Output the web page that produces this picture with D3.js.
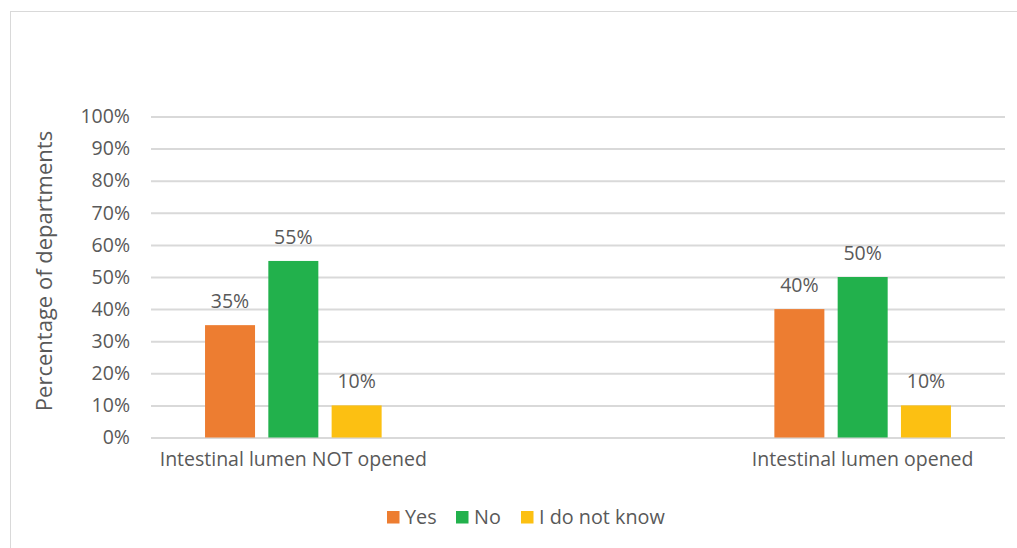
<!DOCTYPE html>
<html>
<head>
<meta charset="utf-8">
<script src="https://cdn.jsdelivr.net/npm/d3@7"></script>
<style>
  html, body { margin: 0; padding: 0; background: #ffffff; }
  svg { display: block; }
  text { font-family: "Open Sans", "DejaVu Sans", sans-serif; fill: #595959; }
</style>
</head>
<body>
<svg id="chart" width="1017" height="548"></svg>
<script>
// ---- data ----
const categories = ["Intestinal lumen NOT opened", "", "Intestinal lumen opened"];
const seriesNames = ["Yes", "No", "I do not know"];
const yesValues = [35, null, 40];
const noValues = [55, null, 50];
const dontKnowValues = [10, null, 10];
const yTicks = [0, 10, 20, 30, 40, 50, 60, 70, 80, 90, 100];
const colors = ["#ED7D31", "#22B14C", "#FCC012"];

const seriesValues = [yesValues, noValues, dontKnowValues];

const svg = d3.select("#chart");
const W = 1017, H = 548;
const margin = { left: 151, right: W - 1005, top: 116.5, bottom: H - 437.5 };

// chart border
svg.append("rect")
  .attr("x", 10.5).attr("y", 11.5)
  .attr("width", W + 20).attr("height", H + 20)
  .attr("fill", "#ffffff").attr("stroke", "#d9d9d9").attr("stroke-width", 1);

const x = d3.scaleBand().domain(categories.map((c, i) => i))
  .range([margin.left, W - margin.right]).paddingInner(0).paddingOuter(0);
const innerW = x.bandwidth();
const groupPad = (innerW - (3 * 50 + 2 * 13.3)) / 2;
const x1 = d3.scaleBand().domain(seriesNames)
  .range([groupPad, innerW - groupPad]).paddingInner(0.21);
const y = d3.scaleLinear().domain([0, 100]).range([H - margin.bottom, margin.top]);

// gridlines
const yAxis = d3.axisLeft(y).tickValues(yTicks)
  .tickSize(-(W - margin.left - margin.right))
  .tickFormat(d => d + "%").tickPadding(21);
const gy = svg.append("g").attr("transform", `translate(${margin.left},0)`).call(yAxis);
gy.select(".domain").remove();
gy.selectAll(".tick line").attr("stroke", "#d9d9d9").attr("stroke-width", 2);
gy.selectAll(".tick text").attr("font-size", 19.5).attr("fill", "#595959")
  .style("font-family", "'Open Sans', sans-serif");

// bars
const groups = svg.append("g").selectAll("g")
  .data(categories.map((c, i) => i).filter(i => categories[i] !== ""))
  .join("g")
  .attr("transform", i => `translate(${x(i)},0)`);

groups.each(function(ci) {
  const g = d3.select(this);
  seriesNames.forEach((s, si) => {
    const v = seriesValues[si][ci];
    if (v == null) return;
    g.append("rect")
      .attr("x", x1(s)).attr("width", x1.bandwidth())
      .attr("y", y(v)).attr("height", y(0) - y(v))
      .attr("fill", colors[si]);
    g.append("text")
      .attr("x", x1(s) + x1.bandwidth() / 2)
      .attr("y", y(v) - 17)
      .attr("text-anchor", "middle")
      .attr("font-size", 19.5)
      .text(v + "%");
  });
});

// category labels
const xAxis = d3.axisBottom(x).tickSize(0).tickPadding(0)
  .tickFormat(i => categories[i]);
const gx = svg.append("g").attr("transform", `translate(0,${y(0)})`).call(xAxis);
gx.select(".domain").remove();
gx.selectAll(".tick text").attr("dy", null).attr("y", 28)
  .attr("font-size", 19.5).attr("fill", "#595959")
  .style("font-family", "'Open Sans', sans-serif");

// y axis title
svg.append("text")
  .attr("transform", `translate(52,${(margin.top + H - margin.bottom) / 2 - 6}) rotate(-90)`)
  .attr("text-anchor", "middle")
  .attr("font-size", 22)
  .text("Percentage of departments");

// legend
const legendX = [387, 456, 521];
const legend = svg.append("g");
seriesNames.forEach((s, i) => {
  legend.append("rect").attr("x", legendX[i]).attr("y", 511)
    .attr("width", 12.5).attr("height", 12.5).attr("fill", colors[i]);
  legend.append("text").attr("x", legendX[i] + 18).attr("y", 524)
    .attr("font-size", 19.8).text(s);
});
</script>
</body>
</html>
